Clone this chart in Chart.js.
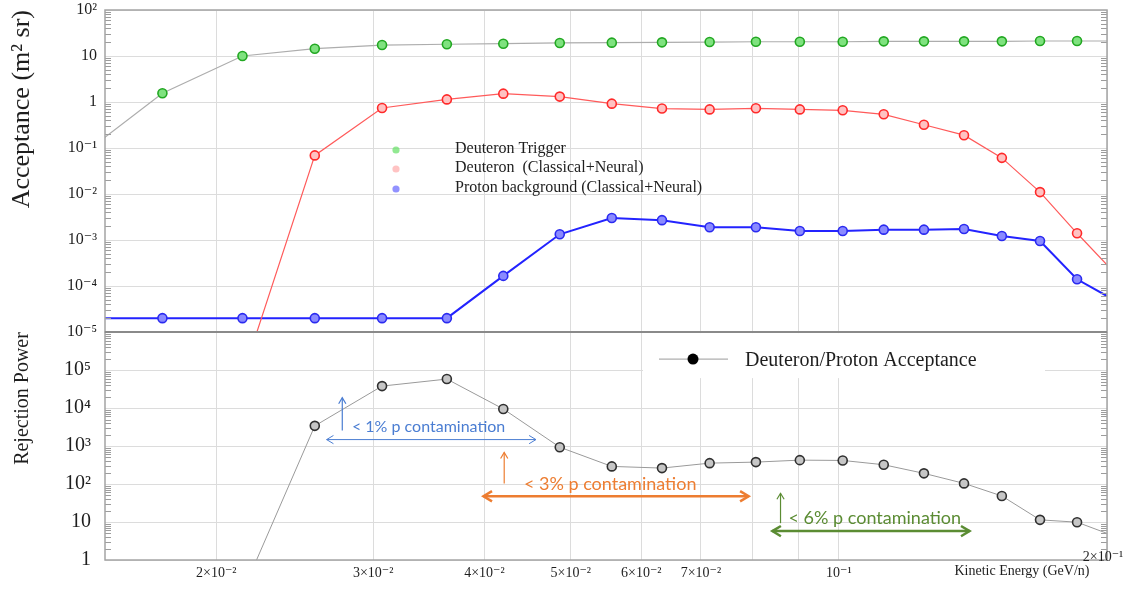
<!DOCTYPE html>
<html>
<head>
<meta charset="utf-8">
<script src="https://cdn.jsdelivr.net/npm/chart.js@4.4.1/dist/chart.umd.min.js"></script>
<style>
  html, body { margin: 0; padding: 0; background: #fff; }
  #wrap { position: relative; width: 1135px; height: 594px; }
  #wrap canvas { position: absolute; left: 0; }
  #acc { top: 0; z-index: 2; }
  #rej { top: 326px; z-index: 1; }
</style>
</head>
<body>
<div id="wrap">
  <canvas id="rej" width="1135" height="268"></canvas>
  <canvas id="acc" width="1135" height="345"></canvas>
</div>
<script>
// kinetic energy bin centres (GeV/n); the first and last bins lie just outside the plotted range
const energy = [0.0139, 0.0174, 0.0214, 0.0258, 0.0307, 0.0363, 0.0420, 0.0486, 0.0556, 0.0633, 0.0716,
                0.0807, 0.0904, 0.1010, 0.1123, 0.1246, 0.1382, 0.1524, 0.1682, 0.1851, 0.2036];

// acceptance, m^2 sr
const deuteronTrigger = [0.055, 1.55, 10, 14.4, 17.3, 18, 18.5, 19.2, 19.5, 19.8, 20.1,
                         20.4, 20.4, 20.4, 20.8, 20.8, 20.8, 20.8, 21.2, 21.2, 21.2];
const deuteronCN = [null, null, 1.1e-6, 0.069, 0.74, 1.14, 1.52, 1.31, 0.92, 0.72, 0.69,
                    0.73, 0.69, 0.66, 0.54, 0.32, 0.19, 0.061, 0.011, 0.0014, 0.0002];
const protonCN = [2e-5, 2e-5, 2e-5, 2e-5, 2e-5, 2e-5, 1.66e-4, 1.33e-3, 3.0e-3, 2.7e-3, 1.9e-3,
                  1.9e-3, 1.57e-3, 1.57e-3, 1.68e-3, 1.68e-3, 1.73e-3, 1.22e-3, 9.5e-4, 1.4e-4, 5e-5];

// deuteron / proton acceptance
const rejection = [null, null, 0.14, 3400, 37900, 58000, 9470, 933, 291, 263, 355,
                   378, 426, 418, 322, 191, 104, 48.5, 11.4, 9.9, 4.3];

// axis ticks
const energyTicks = [0.02, 0.03, 0.04, 0.05, 0.06, 0.07, 0.08, 0.09, 0.1, 0.2];
const energyTickLabels = ['2×10⁻²', '3×10⁻²', '4×10⁻²', '5×10⁻²', '6×10⁻²', '7×10⁻²', '', '', '10⁻¹', '2×10⁻¹'];
const accTicks = [1e-5, 1e-4, 1e-3, 1e-2, 1e-1, 1, 10, 100];
const accTickLabels = ['10⁻⁵', '10⁻⁴', '10⁻³', '10⁻²', '10⁻¹', '1', '10', '10²'];
const rejTicks = [1, 10, 100, 1e3, 1e4, 1e5, 1e6];
const rejTickLabels = ['1', '10', '10²', '10³', '10⁴', '10⁵', ''];

// contamination bands drawn over the lower panel
const contamination = [
  { text: '< 1% p contamination', color: '#4a7dd2', size: 16, from: 0.0266, to: 0.0457, level: 1480, width: 1,
    up: [0.0277, 2560, 18700], label: [0.0284, 3250] },
  { text: '< 3% p contamination', color: '#ed7d31', size: 18, from: 0.0399, to: 0.0792, level: 47.6, width: 2.5,
    up: [0.0421, 104, 677], label: [0.0443, 98] },
  { text: '< 6% p contamination', color: '#5b8c33', size: 18, from: 0.0842, to: 0.1402, level: 5.76, width: 2.5,
    up: [0.0860, 9.3, 57], label: [0.0878, 12.6] }
];

const serif = "'Liberation Serif', 'DejaVu Serif', serif";
const ink = '#1e1e1e';
const lastTick = energyTicks.length - 1;

function points(values) {
  return energy.map((e, i) => ({ x: e, y: values[i] }));
}

function series(label, values, st) {
  return {
    label: label,
    data: points(values),
    borderColor: st.line,
    borderWidth: st.width,
    pointRadius: 4.5,
    pointBorderWidth: 1.6,
    pointBackgroundColor: st.fill,
    pointBorderColor: st.edge,
    tension: 0,
    spanGaps: false
  };
}

function fixedTicks(values) {
  return function (scale) {
    scale.ticks = values.map(v => ({ value: v }));
  };
}

// y axes: fixed width, no extra room for the end labels
function yFit(scale) {
  scale.width = 105;
  scale.paddingTop = 0;
  scale.paddingBottom = 0;
}

function xFit(h) {
  return function (scale) {
    scale.height = h;
    scale.paddingLeft = 0;
    scale.paddingRight = 0;
  };
}

// box round the plot area plus the small log ticks on both sides
const frame = {
  id: 'frame',
  afterDraw(chart, args, opts) {
    const { ctx, chartArea: a } = chart;
    const y = chart.scales.y;
    ctx.save();
    ctx.strokeStyle = '#9c9c9c';
    ctx.lineWidth = 1;
    for (let d = y.min; d < y.max * 0.999; d *= 10) {
      for (let k = 2; k <= 9; k++) {
        const py = Math.round(y.getPixelForValue(d * k)) + 0.5;
        ctx.beginPath();
        ctx.moveTo(a.left, py); ctx.lineTo(a.left + 6, py);
        ctx.moveTo(a.right, py); ctx.lineTo(a.right - 6, py);
        ctx.stroke();
      }
    }
    ctx.strokeStyle = '#a4a4a4';
    ctx.lineWidth = 1.5;
    ctx.strokeRect(a.left, a.top, a.right - a.left, a.bottom - a.top);
    if (opts.bottomEdge) {
      ctx.strokeStyle = '#8a8a8a';
      ctx.lineWidth = 2;
      ctx.beginPath();
      ctx.moveTo(a.left, a.bottom); ctx.lineTo(a.right, a.bottom);
      ctx.stroke();
    }
    ctx.restore();
  }
};

const accLegend = {
  id: 'accLegend',
  afterDatasetsDraw(chart) {
    const { ctx, chartArea: a } = chart;
    const dots = ['rgba(110,225,110,0.75)', 'rgba(255,170,170,0.7)', 'rgba(100,100,255,0.7)'];
    const rows = [149, 168, 188];
    ctx.save();
    ctx.font = '16px ' + serif;
    ctx.textBaseline = 'middle';
    chart.data.datasets.forEach((ds, i) => {
      ctx.fillStyle = dots[i];
      ctx.beginPath();
      ctx.arc(a.left + 291, rows[i] + 1, 3.6, 0, Math.PI * 2);
      ctx.fill();
      ctx.fillStyle = ink;
      ctx.fillText(ds.label, a.left + 350, rows[i]);
    });
    ctx.restore();
  }
};

function arrowHead(ctx, x, y, ang, len) {
  ctx.beginPath();
  ctx.moveTo(x + len * Math.cos(ang + 2.6), y + len * Math.sin(ang + 2.6));
  ctx.lineTo(x, y);
  ctx.lineTo(x + len * Math.cos(ang - 2.6), y + len * Math.sin(ang - 2.6));
  ctx.stroke();
}

const rejOverlay = {
  id: 'rejOverlay',
  beforeDatasetsDraw(chart) {
    const { ctx, chartArea: a } = chart;
    ctx.save();
    ctx.fillStyle = '#fff';
    ctx.fillRect(a.left + 538, a.top + 1, 402, 45);
    ctx.restore();
  },
  afterDatasetsDraw(chart) {
    const { ctx, chartArea: a } = chart;
    const xs = chart.scales.x, ys = chart.scales.y;
    ctx.save();
    // legend
    const ly = a.top + 27;
    ctx.strokeStyle = '#9a9a9a';
    ctx.lineWidth = 1;
    ctx.beginPath();
    ctx.moveTo(a.left + 554, ly); ctx.lineTo(a.left + 623, ly);
    ctx.stroke();
    ctx.fillStyle = '#000';
    ctx.beginPath();
    ctx.arc(a.left + 588, ly, 5.5, 0, Math.PI * 2);
    ctx.fill();
    ctx.font = '20px ' + serif;
    ctx.textBaseline = 'middle';
    ctx.fillStyle = ink;
    ctx.fillText(chart.data.datasets[0].label, a.left + 640, ly + 2);

    // contamination bands
    contamination.forEach(c => {
      const big = c.width > 1;
      ctx.strokeStyle = c.color;
      ctx.fillStyle = c.color;
      const x0 = xs.getPixelForValue(c.from), x1 = xs.getPixelForValue(c.to);
      const yy = ys.getPixelForValue(c.level);
      ctx.lineWidth = c.width;
      ctx.beginPath();
      ctx.moveTo(x0, yy); ctx.lineTo(x1, yy);
      ctx.stroke();
      arrowHead(ctx, x0, yy, Math.PI, big ? 10 : 8);
      arrowHead(ctx, x1, yy, 0, big ? 10 : 8);

      const ux = xs.getPixelForValue(c.up[0]);
      const uy0 = ys.getPixelForValue(c.up[1]), uy1 = ys.getPixelForValue(c.up[2]);
      ctx.lineWidth = 1.2;
      ctx.beginPath();
      ctx.moveTo(ux, uy0); ctx.lineTo(ux, uy1);
      ctx.stroke();
      arrowHead(ctx, ux, uy1, -Math.PI / 2, 7);

      ctx.font = c.size + 'px Lato, "Open Sans", sans-serif';
      ctx.textBaseline = 'middle';
      ctx.fillText(c.text, xs.getPixelForValue(c.label[0]), ys.getPixelForValue(c.label[1]));
    });
    ctx.restore();
  },
  afterDraw(chart) {
    // the end label of the energy axis sits raised, above the axis title
    const { ctx, chartArea: a } = chart;
    const xs = chart.scales.x;
    ctx.save();
    ctx.font = '14px ' + serif;
    ctx.fillStyle = ink;
    ctx.textAlign = 'center';
    ctx.textBaseline = 'middle';
    ctx.fillText(energyTickLabels[lastTick], xs.getPixelForValue(energyTicks[lastTick]) - 4, a.bottom - 3);
    ctx.restore();
  }
};

const base = {
  responsive: false,
  animation: false,
  devicePixelRatio: 1,
  plugins: { legend: { display: false }, tooltip: { enabled: false } }
};

new Chart(document.getElementById('acc'), {
  type: 'line',
  data: {
    datasets: [
      series('Deuteron Trigger', deuteronTrigger, { line: '#adadad', width: 1.2, fill: '#7fe27f', edge: '#22a822' }),
      series('Deuteron  (Classical+Neural)', deuteronCN, { line: '#ff5a5a', width: 1.2, fill: '#ffc2c2', edge: '#ff2a2a' }),
      series('Proton background (Classical+Neural)', protonCN, { line: '#2323ff', width: 2, fill: '#8a8aff', edge: '#2a2af0' })
    ]
  },
  options: Object.assign({}, base, {
    layout: { padding: { top: 10, right: 28, bottom: 0, left: 0 } },
    plugins: Object.assign({}, base.plugins, { frame: { bottomEdge: true } }),
    scales: {
      x: {
        type: 'logarithmic', min: 0.015, max: 0.2,
        afterBuildTicks: fixedTicks(energyTicks),
        afterFit: xFit(13),
        ticks: { display: false },
        grid: { color: '#dcdcdc', drawTicks: false },
        border: { display: false }
      },
      y: {
        type: 'logarithmic', min: 1e-5, max: 100,
        afterBuildTicks: fixedTicks(accTicks),
        afterFit: yFit,
        ticks: {
          autoSkip: false, padding: 8, color: ink,
          font: { family: serif, size: 16 },
          callback: (v, i) => accTickLabels[i]
        },
        grid: { color: '#dcdcdc', drawTicks: false },
        border: { display: false },
        title: {
          display: true, text: 'Acceptance (m² sr)', align: 'end', color: ink,
          font: { family: serif, size: 26 }, padding: { top: 7, bottom: 0 }
        }
      }
    }
  }),
  plugins: [frame, accLegend]
});

new Chart(document.getElementById('rej'), {
  type: 'line',
  data: {
    datasets: [
      series('Deuteron/Proton Acceptance', rejection, { line: '#9a9a9a', width: 1, fill: '#c6c6c6', edge: '#303030' })
    ]
  },
  options: Object.assign({}, base, {
    layout: { padding: { top: 0, right: 28, bottom: 0, left: 0 } },
    plugins: Object.assign({}, base.plugins, { frame: { bottomEdge: false } }),
    scales: {
      x: {
        type: 'logarithmic', min: 0.015, max: 0.2,
        afterBuildTicks: fixedTicks(energyTicks),
        afterFit: xFit(34),
        ticks: {
          autoSkip: false, maxRotation: 0, padding: 5, color: ink,
          font: { family: serif, size: 14 },
          callback: (v, i) => (i === lastTick ? '' : energyTickLabels[i])
        },
        grid: { color: '#dcdcdc', drawTicks: false },
        border: { display: false },
        title: {
          display: true, text: 'Kinetic Energy (GeV/n)     ', align: 'end', color: ink,
          font: { family: serif, size: 14 }, padding: { top: 0, bottom: 14 }
        }
      },
      y: {
        type: 'logarithmic', min: 1, max: 1e6,
        afterBuildTicks: fixedTicks(rejTicks),
        afterFit: yFit,
        ticks: {
          autoSkip: false, padding: 14, color: ink,
          font: { family: serif, size: 20 },
          callback: (v, i) => rejTickLabels[i]
        },
        grid: { color: '#dcdcdc', drawTicks: false },
        border: { display: false },
        title: {
          display: true, text: 'Rejection Power', align: 'end', color: ink,
          font: { family: serif, size: 20 }, padding: { top: 11, bottom: 0 }
        }
      }
    }
  }),
  plugins: [frame, rejOverlay]
});
</script>
</body>
</html>
